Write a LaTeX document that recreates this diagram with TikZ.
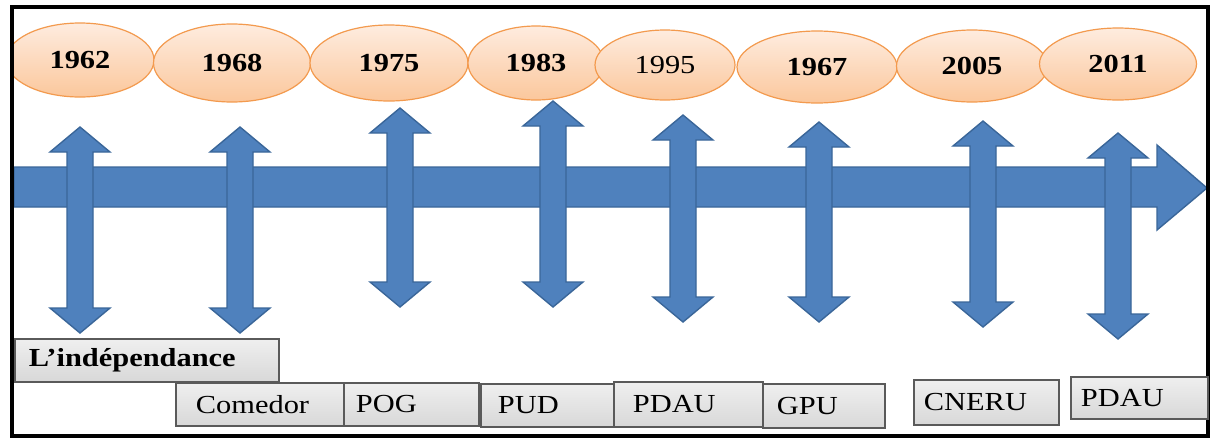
\documentclass[tikz,border=0pt]{standalone}
\usepackage{fontspec}
\setmainfont[FakeStretch=1.17]{Liberation Serif}
\usetikzlibrary{shapes.geometric,shadows}
\definecolor{arrowblue}{HTML}{4F81BD}
\definecolor{arrowedge}{HTML}{3A6699}
\definecolor{ovaltop}{HTML}{FEECDF}
\definecolor{ovalbot}{HTML}{FBC79C}
\definecolor{ovaledge}{HTML}{F39A4E}
\definecolor{boxtop}{HTML}{EFEFEF}
\definecolor{boxbot}{HTML}{D8D8D8}
\definecolor{boxedge}{HTML}{5A5A5A}
\newcommand\dblarrow[3]{%
  \draw[blockarrow] ({#1-13},{#2+25}) -- ({#1-30},{#2+25}) -- (#1,#2) -- ({#1+30},{#2+25}) -- ({#1+13},{#2+25})
    -- ({#1+13},{#3-25}) -- ({#1+30},{#3-25}) -- (#1,#3) -- ({#1-30},{#3-25}) -- ({#1-13},{#3-25}) -- cycle;}
\begin{document}
\begin{tikzpicture}[x=1pt,y=-1pt,
  yearoval/.style={ellipse, draw=ovaledge, line width=1.2pt, top color=ovaltop, bottom color=ovalbot,
    inner sep=0pt, font=\fontsize{26}{30}\selectfont\bfseries},
  blockarrow/.style={fill=arrowblue, draw=arrowedge, line width=1.4pt, line join=miter},
  eventbox/.style={draw=boxedge, line width=1.8pt, top color=boxtop, bottom color=boxbot,
    anchor=north west, align=left, font=\fontsize{26}{30}\selectfont,
    drop shadow={opacity=0.35, shadow xshift=1.5pt, shadow yshift=-1.5pt}}
]
\useasboundingbox (0,0) rectangle (1211,437);
\fill[white] (0,0) rectangle (1211,437);
% ovals
\begin{scope}
\clip (12,0) rectangle (1211,437);
\node[yearoval, minimum width=148pt, minimum height=74pt] (y1962) at (80,60) {1962};
\node[yearoval, minimum width=157pt, minimum height=78pt] (y1968) at (232,63) {1968};
\node[yearoval, minimum width=158pt, minimum height=76pt] (y1975) at (389,63) {1975};
\node[yearoval, minimum width=136pt, minimum height=74pt] (y1983) at (536,63) {1983};
\node[yearoval, minimum width=140pt, minimum height=70pt, font=\fontsize{26}{30}\selectfont] (y1995) at (665,65) {1995};
\node[yearoval, minimum width=160pt, minimum height=72pt] (y1967) at (817,67) {1967};
\node[yearoval, minimum width=151pt, minimum height=72pt] (y2005) at (972,66) {2005};
\node[yearoval, minimum width=157pt, minimum height=72pt] (y2011) at (1118,64) {2011};
\end{scope}
% timeline arrow
\draw[blockarrow] (14,167) -- (1157,167) -- (1157,145) -- (1207,188) -- (1157,230) -- (1157,207) -- (14,207) -- cycle;
% double arrows
\dblarrow{80}{127}{333}
\dblarrow{240}{127}{333}
\dblarrow{400}{108}{307}
\dblarrow{553}{101}{307}
\dblarrow{683}{115}{322}
\dblarrow{819}{122}{322}
\dblarrow{983}{121}{327}
\dblarrow{1118}{133}{339}
% frame
\draw[line width=4pt] (12,7) rectangle (1208,435.5);
% boxes
\node[eventbox, inner xsep=14pt, text width=236pt, minimum height=43pt, font=\fontsize{26}{30}\selectfont\bfseries] (b1) at (14,338) {L’indépendance};
\node[eventbox, inner xsep=20pt, text width=128pt, minimum height=43pt] (b2) at (175,382) {Comedor};
\node[eventbox, inner xsep=12pt, text width=111pt, minimum height=43pt] (b3) at (343,382) {POG};
\node[eventbox, inner xsep=17pt, text width=99pt, minimum height=43pt] (b4) at (480,383) {PUD};
\node[eventbox, inner xsep=19pt, text width=111pt, minimum height=45pt] (b5) at (613,381) {PDAU};
\node[eventbox, inner xsep=14pt, text width=94pt, minimum height=44pt] (b6) at (762,383) {GPU};
\node[eventbox, inner xsep=10pt, text width=125pt, minimum height=45pt] (b7) at (913,379) {CNERU};
\node[eventbox, inner xsep=10pt, text width=117pt, minimum height=42pt] (b8) at (1070,376) {PDAU};
\end{tikzpicture}
\end{document}
